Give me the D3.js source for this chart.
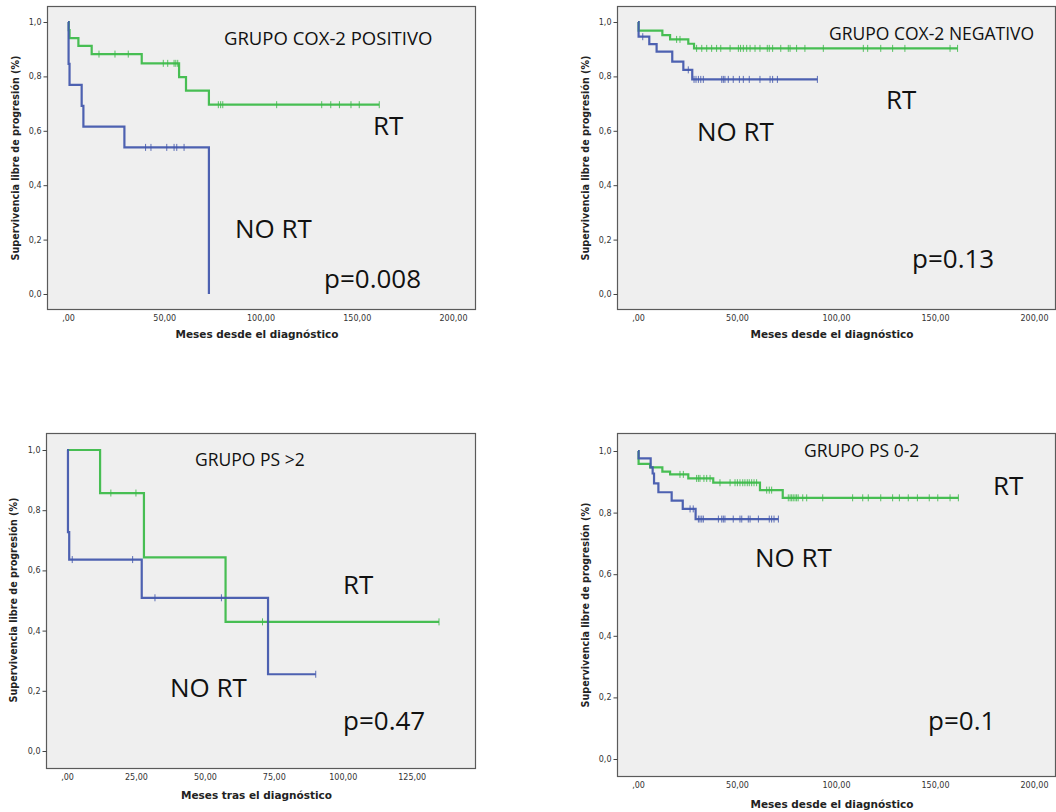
<!DOCTYPE html>
<html>
<head>
<meta charset="utf-8">
<script src="https://cdn.jsdelivr.net/npm/d3@7"></script>
<style>
  html, body { margin: 0; padding: 0; background: #ffffff; }
  svg { display: block; }
</style>
</head>
<body>
<svg id="chart" width="1056" height="812"></svg>
<script>
// Kaplan–Meier curves: progression-free survival, RT vs NO RT, in four subgroups.
// Each curve: step points [months, survival], censored times, and last follow-up time.

// Panel A — GRUPO COX-2 POSITIVO
const coxPosRtSteps = [[0,1],[0.4,0.97],[0.8,0.941],[5.4,0.912],[12.3,0.882],[38.3,0.848],[57.7,0.797],[61.3,0.748],[73.2,0.696]];
const coxPosRtCensored = [16.1,24.4,31.3,49.5,51.8,55.1,56.0,57.0,78.1,79.3,80.4,108.4,131.8,136.5,141,147,151.3,161.7];
const coxPosRtEnd = 161.7;
const coxPosNoRtSteps = [[0,1],[0.3,0.846],[0.8,0.769],[7.1,0.692],[8.0,0.615],[29.3,0.539],[73.2,0]];
const coxPosNoRtCensored = [40.3,43.1,51.3,55.1,56.5,60.3];
const coxPosNoRtEnd = 73.2;

// Panel B — GRUPO COX-2 NEGATIVO
const coxNegRtSteps = [[0,1],[0.3,0.968],[12.3,0.952],[16.2,0.936],[25.4,0.92],[28.3,0.903]];
const coxNegRtCensored = [19.5,21.2,29.6,32.2,34.7,37.2,39.7,41.8,46.5,50.7,51.8,53.2,54.9,56.6,59.1,61.6,65.3,66.3,68.0,72.1,75.9,76.8,80.1,84.3,93.6,113.8,116.0,122.6,128.6,134.8,157.6,161.4];
const coxNegRtEnd = 161.4;
const coxNegNoRtSteps = [[0,1],[0.3,0.946],[5.7,0.919],[9.4,0.891],[17.3,0.854],[22.9,0.824],[27.4,0.789]];
const coxNegNoRtCensored = [2.4,25.4,28.3,29.3,30.5,31.7,33.0,42.3,43.1,43.9,45.6,48.1,51.2,53.2,56.2,61.6,66.7,68.0,70.4,90.6];
const coxNegNoRtEnd = 90.6;

// Panel C — GRUPO PS >2
const psHighRtSteps = [[0,1],[12,0.857],[27.9,0.643],[57.5,0.429]];
const psHighRtCensored = [15.9,25,70.9,134.9];
const psHighRtEnd = 134.9;
const psHighNoRtSteps = [[0,1],[0.35,0.727],[0.8,0.636],[27.1,0.509],[72.9,0.255]];
const psHighNoRtCensored = [1.9,23.8,31.9,56.0,90.2];
const psHighNoRtEnd = 90.2;

// Panel D — GRUPO PS 0-2
const psLowRtSteps = [[0,1],[0.3,0.958],[6.1,0.947],[12.3,0.933],[16.2,0.924],[25.4,0.911],[38,0.897],[61.6,0.873],[73.1,0.848]];
const psLowRtCensored = [21.2,22.9,29.6,30.5,31.3,33.3,34.7,36.4,41.4,46.5,49.0,50.2,51.5,52.9,54.0,55.2,56.2,57.4,58.6,59.9,65,66.3,67.5,75.9,76.8,77.6,78.4,79.3,80.1,80.9,83.2,85.2,93.3,108.4,113.5,116.3,122.6,128.6,132.0,136.5,141.1,147.1,151.4,157.6,161.8];
const psLowRtEnd = 161.8;
const psLowNoRtSteps = [[0,1],[0.3,0.976],[6.4,0.947],[7.4,0.927],[8.1,0.895],[10.3,0.866],[17,0.839],[22.6,0.812],[29.1,0.779]];
const psLowNoRtCensored = [26.3,27.9,30.5,31.3,32.2,33.0,40.6,42.3,43.1,43.9,48.1,51.5,52.4,55.7,56.6,60.8,66.3,67.5,68.7,70.9];
const psLowNoRtEnd = 70.9;

// Axis ticks and labels
const yTicks = [0, 0.2, 0.4, 0.6, 0.8, 1.0];
const xTicksLong = [0, 50, 100, 150, 200];
const xTicksShort = [0, 25, 50, 75, 100, 125];
const yAxisTitle = "Supervivencia libre de progresión (%)";
const xTitleDesde = "Meses desde el diagnóstico";
const xTitleTras = "Meses tras el diagnóstico";

// Group titles and annotations
const panelTitles = ["GRUPO COX-2 POSITIVO", "GRUPO COX-2 NEGATIVO", "GRUPO PS >2", "GRUPO PS 0-2"];
const pValues = ["p=0.008", "p=0.13", "p=0.47", "p=0.1"];
const rtLabel = "RT";
const noRtLabel = "NO RT";

const COLOR_RT = "#3dba4a";
const COLOR_NORT = "#4358ad";

const fmtY = v => d3.format(".1f")(v).replace(".", ",");
const fmtX = v => { const s = d3.format(".2f")(v).replace(".", ","); return s.startsWith("0,") ? s.slice(1) : s; };

const svg = d3.select("#chart");

function survivalAt(steps, t) {
  let s = steps[0][1];
  for (const [ti, si] of steps) { if (ti <= t) s = si; else break; }
  return s;
}

function drawPanel(cfg) {
  const g = svg.append("g");
  const x = d3.scaleLinear().domain(cfg.xDomain).range(cfg.xRange);
  const y = d3.scaleLinear().domain([0, 1]).range(cfg.yRange);

  // plot frame
  g.append("rect")
    .attr("x", cfg.frame[0] + 0.5).attr("y", cfg.frame[1] + 0.5)
    .attr("width", cfg.frame[2] - cfg.frame[0]).attr("height", cfg.frame[3] - cfg.frame[1])
    .attr("fill", "#efefef").attr("stroke", "#5a5a5a").attr("stroke-width", 1.2);

  // y axis
  const yAxis = d3.axisLeft(y).tickValues(yTicks).tickFormat(fmtY).tickSize(4).tickSizeOuter(0);
  const ya = g.append("g").attr("transform", `translate(${cfg.frame[0] + 0.5},0)`).call(yAxis);
  ya.select(".domain").remove();
  ya.selectAll("line").attr("stroke", "#444");
  ya.selectAll("text").attr("font-family", "DejaVu Sans, sans-serif").attr("font-size", 8).attr("fill", "#333").attr("dx", 1);

  // x axis
  const xAxis = d3.axisBottom(x).tickValues(cfg.xTicks).tickFormat(fmtX).tickSize(0).tickPadding(cfg.xLabelPad);
  const xa = g.append("g").attr("transform", `translate(0,${cfg.frame[3] + 0.5})`).call(xAxis);
  xa.select(".domain").remove();
  xa.selectAll("text").attr("font-family", "DejaVu Sans, sans-serif").attr("font-size", 8).attr("fill", "#333");

  // axis titles
  g.append("text")
    .attr("x", (cfg.frame[0] + cfg.frame[2]) / 2 - 4).attr("y", cfg.xTitleY)
    .attr("text-anchor", "middle")
    .attr("font-family", "DejaVu Sans, sans-serif").attr("font-weight", "bold").attr("font-size", 10.5).attr("fill", "#222")
    .text(cfg.xTitle);
  g.append("text")
    .attr("transform", `translate(${cfg.yTitleX},${cfg.yTitleCy}) rotate(-90)`)
    .attr("text-anchor", "middle")
    .attr("font-family", "DejaVu Sans, sans-serif").attr("font-weight", "bold").attr("font-size", 9.6).attr("fill", "#222")
    .text(yAxisTitle);

  // survival curves
  cfg.curves.forEach(c => {
    const pts = c.steps.slice();
    const last = pts[pts.length - 1];
    if (c.end > last[0]) pts.push([c.end, last[1]]);
    const line = d3.line().x(d => x(d[0])).y(d => y(d[1])).curve(d3.curveStepAfter);
    g.append("path").datum(pts)
      .attr("d", line)
      .attr("fill", "none").attr("stroke", c.color).attr("stroke-width", 2.2)
      .attr("stroke-linejoin", "miter").attr("opacity", 0.95);
    g.selectAll(null).data(c.censored).enter().append("line")
      .attr("x1", d => x(d)).attr("x2", d => x(d))
      .attr("y1", d => y(survivalAt(c.steps, d)) - 3.5)
      .attr("y2", d => y(survivalAt(c.steps, d)) + 3.5)
      .attr("stroke", c.color).attr("stroke-width", 1).attr("opacity", 0.85);
  });

  // annotations
  cfg.labels.forEach(l => {
    g.append("text").attr("x", l.x).attr("y", l.y)
      .attr("font-family", "Open Sans, sans-serif").attr("font-size", l.size).attr("fill", "#111")
      .text(l.text);
  });
}

drawPanel({
  frame: [47, 6, 475, 309], xDomain: [0, 200], xRange: [68, 453], yRange: [294, 22],
  xTicks: xTicksLong, xLabelPad: 6, xTitle: xTitleDesde, xTitleY: 338, yTitleX: 19, yTitleCy: 158,
  curves: [
    { steps: coxPosRtSteps, censored: coxPosRtCensored, end: coxPosRtEnd, color: COLOR_RT },
    { steps: coxPosNoRtSteps, censored: coxPosNoRtCensored, end: coxPosNoRtEnd, color: COLOR_NORT }
  ],
  labels: [
    { text: panelTitles[0], x: 224, y: 45, size: 18.5 },
    { text: rtLabel, x: 373, y: 135, size: 26 },
    { text: noRtLabel, x: 235, y: 238, size: 26 },
    { text: pValues[0], x: 324, y: 288, size: 26 }
  ]
});

drawPanel({
  frame: [617, 6, 1055, 309], xDomain: [0, 200], xRange: [638, 1034], yRange: [294, 22],
  xTicks: xTicksLong, xLabelPad: 6, xTitle: xTitleDesde, xTitleY: 338, yTitleX: 589, yTitleCy: 158,
  curves: [
    { steps: coxNegRtSteps, censored: coxNegRtCensored, end: coxNegRtEnd, color: COLOR_RT },
    { steps: coxNegNoRtSteps, censored: coxNegNoRtCensored, end: coxNegNoRtEnd, color: COLOR_NORT }
  ],
  labels: [
    { text: panelTitles[1], x: 829, y: 40, size: 17.5 },
    { text: rtLabel, x: 886, y: 109, size: 26 },
    { text: noRtLabel, x: 697, y: 141, size: 26 },
    { text: pValues[1], x: 912, y: 268, size: 26 }
  ]
});

drawPanel({
  frame: [46, 433, 475, 768], xDomain: [0, 125], xRange: [67, 411.7], yRange: [751, 450],
  xTicks: xTicksShort, xLabelPad: 6, xTitle: xTitleTras, xTitleY: 799, yTitleX: 17, yTitleCy: 600,
  curves: [
    { steps: psHighRtSteps, censored: psHighRtCensored, end: psHighRtEnd, color: COLOR_RT },
    { steps: psHighNoRtSteps, censored: psHighNoRtCensored, end: psHighNoRtEnd, color: COLOR_NORT }
  ],
  labels: [
    { text: panelTitles[2], x: 195, y: 466, size: 17.5 },
    { text: rtLabel, x: 343, y: 594, size: 26 },
    { text: noRtLabel, x: 170, y: 697, size: 26 },
    { text: pValues[2], x: 343, y: 730, size: 26 }
  ]
});

drawPanel({
  frame: [617, 433, 1055, 776], xDomain: [0, 200], xRange: [638, 1034], yRange: [759, 451],
  xTicks: xTicksLong, xLabelPad: 6, xTitle: xTitleDesde, xTitleY: 808, yTitleX: 589, yTitleCy: 605,
  curves: [
    { steps: psLowRtSteps, censored: psLowRtCensored, end: psLowRtEnd, color: COLOR_RT },
    { steps: psLowNoRtSteps, censored: psLowNoRtCensored, end: psLowNoRtEnd, color: COLOR_NORT }
  ],
  labels: [
    { text: panelTitles[3], x: 804, y: 457, size: 17.5 },
    { text: rtLabel, x: 993, y: 495, size: 26 },
    { text: noRtLabel, x: 755, y: 567, size: 26 },
    { text: pValues[3], x: 928, y: 730, size: 26 }
  ]
});
</script>
</body>
</html>
